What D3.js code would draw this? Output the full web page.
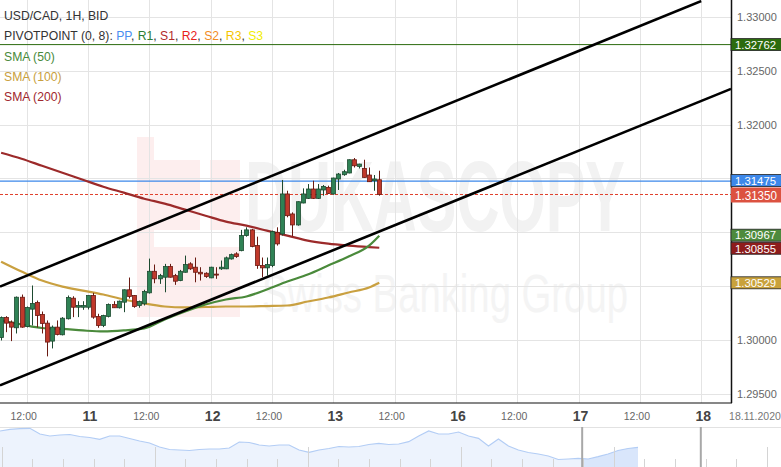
<!DOCTYPE html>
<html><head><meta charset="utf-8">
<script src="https://cdn.jsdelivr.net/npm/d3@7"></script>
<style>
html,body{margin:0;padding:0;background:#fff;overflow:hidden}
svg{display:block;font-family:"Liberation Sans",Arial,sans-serif}
</style></head><body>
<svg id="c" width="781" height="467"></svg>
<script>
// ---------- DATA ----------
const candleStartHour = -17; // hours relative to 11 Nov 00:00 (trading time, weekend removed)
const opens = [1.30021,1.30207,1.30163,1.30111,1.30395,1.30123,1.30284,1.30346,1.30235,1.30154,
1.29987,1.30117,1.30046,1.30195,1.30386,1.30302,1.30302,1.30302,1.30411,1.30216,
1.30132,1.30216,1.30327,1.30297,1.30349,1.30464,1.30411,1.30318,1.30334,1.30436,
1.30636,1.30566,1.30581,1.30680,1.30596,1.30550,1.30627,1.30705,1.30674,1.30627,
1.30618,1.30575,1.30610,1.30659,1.30659,1.30751,1.30798,1.30828,1.30968,1.31021,
1.30875,1.30689,1.30668,1.30689,1.30998,1.30983,1.31355,1.31169,1.31067,1.31271,
1.31314,1.31401,1.31314,1.31392,1.31416,1.31355,1.31494,1.31534,1.31550,1.31673,
1.31611,1.31592,1.31531,1.31478,1.31487];
const highs = [1.30216,1.30219,1.30179,1.30402,1.30420,1.30309,1.30504,1.30364,1.30262,1.30179,
1.30132,1.30179,1.30210,1.30411,1.30404,1.30358,1.30358,1.30411,1.30436,1.30241,
1.30232,1.30337,1.30358,1.30364,1.30467,1.30578,1.30415,1.30364,1.30464,1.30754,
1.30699,1.30612,1.30705,1.30705,1.30612,1.30649,1.30782,1.30720,1.30764,1.30674,
1.30627,1.30678,1.30674,1.30736,1.30773,1.30801,1.30813,1.31021,1.31045,1.31030,
1.30958,1.30764,1.30764,1.31014,1.31045,1.31485,1.31385,1.31184,1.31286,1.31407,
1.31447,1.31478,1.31447,1.31438,1.31432,1.31506,1.31550,1.31580,1.31676,1.31689,
1.31636,1.31673,1.31601,1.31531,1.31571];
const lows = [1.29993,1.30070,1.29987,1.30058,1.30111,1.30114,1.30132,1.30114,1.30058,1.29845,
1.29919,1.30040,1.30040,1.30188,1.30210,1.30210,1.30278,1.30281,1.30195,1.30111,
1.30117,1.30207,1.30297,1.30290,1.30256,1.30383,1.30297,1.30297,1.30318,1.30429,
1.30525,1.30519,1.30441,1.30578,1.30510,1.30544,1.30624,1.30649,1.30534,1.30550,
1.30575,1.30572,1.30566,1.30649,1.30656,1.30745,1.30761,1.30822,1.30958,1.30859,
1.30659,1.30581,1.30596,1.30674,1.30875,1.30968,1.31138,1.30961,1.31060,1.31268,
1.31308,1.31308,1.31308,1.31339,1.31357,1.31348,1.31392,1.31524,1.31547,1.31601,
1.31592,1.31506,1.31466,1.31385,1.31339];
const closes = [1.30207,1.30154,1.30117,1.30395,1.30117,1.30300,1.30337,1.30225,1.30151,1.29978,
1.30117,1.30049,1.30200,1.30392,1.30302,1.30318,1.30318,1.30411,1.30210,1.30132,
1.30225,1.30327,1.30297,1.30358,1.30464,1.30402,1.30309,1.30355,1.30448,1.30636,
1.30566,1.30596,1.30680,1.30581,1.30544,1.30636,1.30699,1.30659,1.30627,1.30612,
1.30587,1.30674,1.30603,1.30674,1.30761,1.30791,1.30773,1.30968,1.31021,1.30866,
1.30689,1.30668,1.30699,1.31005,1.30891,1.31355,1.31153,1.31067,1.31283,1.31355,
1.31401,1.31314,1.31401,1.31425,1.31360,1.31503,1.31540,1.31562,1.31673,1.31617,
1.31633,1.31509,1.31469,1.31494,1.31350];

const smaHours = [-17,-13,-9,-5,-1,3,7,11,15,19,23,27,31,35,39,43,47,51,55,57];
const sma50  = [1.30179,1.30142,1.30109,1.30100,1.30086,1.30077,1.30086,1.30105,1.30188,1.30262,1.30327,1.30374,1.30402,1.30467,1.30541,1.30606,1.30689,1.30773,1.30875,1.30967];
const sma100 = [1.30726,1.30634,1.30550,1.30494,1.30457,1.30420,1.30374,1.30337,1.30309,1.30300,1.30304,1.30309,1.30309,1.30313,1.30318,1.30355,1.30392,1.30439,1.30485,1.30529];
const sma200 = [1.31738,1.31682,1.31617,1.31552,1.31487,1.31422,1.31367,1.31311,1.31265,1.31209,1.31153,1.31098,1.31060,1.31014,1.30968,1.30921,1.30893,1.30875,1.30861,1.30855];

const pivotPP = 1.31475, pivotR1 = 1.32762, lastPrice = 1.31350;
const channelUpperHours = [-17.22, 120.0], channelUpperPrices = [1.30494, 1.33148];
const channelLowerHours = [-17.22, 125.83], channelLowerPrices = [1.29576, 1.32332];

const priceTicks = [1.295,1.300,1.305,1.310,1.315,1.320,1.325,1.330];
const timeTickHours  = [-12,0,12,24,36,48,60,72,84,96,108,120];
const timeTickLabels = ["12:00","11","12:00","12","12:00","13","12:00","16","12:00","17","12:00","18"];
const lastDateLabel = "18.11.2020";

const navValues = [1.3620,1.3654,1.3666,1.3674,1.3560,1.3520,1.3540,1.3550,1.3510,1.3490,
1.3454,1.3520,1.3520,1.3470,1.3420,1.3380,1.3300,1.3250,1.3240,1.3230,
1.3250,1.3260,1.3260,1.3280,1.3400,1.3390,1.3340,1.3320,1.3340,1.3340,
1.3240,1.3194,1.3240,1.3270,1.3310,1.3300,1.3310,1.3350,1.3374,1.3350,
1.3360,1.3406,1.3520,1.3620,1.3560,1.3560,1.3600,1.3520,1.3474,1.3320,
1.3460,1.3320,1.3240,1.3190,1.3160,1.3120,1.3050,1.3060,1.3074,1.3060,
1.3106,1.3160,1.3230,1.3270,1.3294];
const navWindow = [58.4, 70.3];

const legendTitle = "USD/CAD, 1H, BID";
const pivotParts = [["PIVOTPOINT (0, 8): ","#333"],["PP","#4a8ef0"],[", ","#333"],["R1","#2e7d32"],[", ","#333"],["S1","#b22a2a"],[", ","#333"],["R2","#e8201a"],[", ","#333"],["S2","#f28c1e"],[", ","#333"],["R3","#f5c400"],[", ","#333"],["S3","#f2ee00"]];
const smaLegend = [["SMA (50)","#4a8a3b"],["SMA (100)","#c9a040"],["SMA (200)","#a0282e"]];

// ---------- CHART ----------
const W = 781, H = 467, plotR = 731, plotB = 403;
const svg = d3.select("#c");
const x = d3.scaleLinear().domain([-17.22, 125.83]).range([0, plotR]);
const y = d3.scaleLinear().domain([1.295, 1.330]).range([393.5, 17]);

// watermark
const wm = svg.append("g");
wm.append("rect").attr("x",137).attr("y",137).attr("width",103).attr("height",180).attr("fill","#fdeeee");
wm.append("rect").attr("x",154).attr("y",137).attr("width",86).attr("height",110).attr("fill","#ffffff");
wm.append("rect").attr("x",154).attr("y",160).attr("width",46).attr("height",70).attr("fill","#fdeeee");
wm.append("rect").attr("x",210).attr("y",160).attr("width",30).attr("height",70).attr("fill","#fdeeee");
wm.append("text").attr("x",245).attr("y",231).attr("font-size",100).attr("font-weight","bold")
  .attr("font-family","'Liberation Sans Narrow','Liberation Sans',sans-serif")
  .attr("textLength",380).attr("lengthAdjust","spacingAndGlyphs").attr("fill","#f2f2f2").text("DUKASCOPY");
wm.append("text").attr("x",262).attr("y",312).attr("font-size",54)
  .attr("textLength",366).attr("lengthAdjust","spacingAndGlyphs").attr("fill","#f4f4f4").text("Swiss Banking Group");

// grid
const grid = svg.append("g").attr("stroke","#e4e4e4").attr("stroke-width",1);
priceTicks.forEach(p => grid.append("line").attr("x1",0).attr("x2",plotR)
  .attr("y1",Math.round(y(p))+0.5).attr("y2",Math.round(y(p))+0.5));
timeTickHours.forEach(h => grid.append("line").attr("y1",0).attr("y2",plotB)
  .attr("x1",Math.round(x(h))+0.5).attr("x2",Math.round(x(h))+0.5));

// pivot lines
svg.append("line").attr("x1",0).attr("x2",plotR).attr("y1",y(pivotR1)+2).attr("y2",y(pivotR1)+2)
  .attr("stroke","#2c6b0e").attr("stroke-width",1);
svg.append("line").attr("x1",0).attr("x2",plotR).attr("y1",y(pivotPP)).attr("y2",y(pivotPP))
  .attr("stroke","#3d88ea").attr("stroke-width",1.2);
svg.append("line").attr("x1",0).attr("x2",plotR).attr("y1",y(lastPrice)).attr("y2",y(lastPrice))
  .attr("stroke","#e0402c").attr("stroke-width",1).attr("stroke-dasharray","3,2");

// SMA lines
const smaLine = vals => d3.line().curve(d3.curveMonotoneX)
  .x((d,i)=>x(smaHours[i])).y(d=>y(d))(vals);
[[sma200,"#9c2a2a"],[sma100,"#c9a040"],[sma50,"#4a8a3b"]].forEach(([v,c]) =>
  svg.append("path").attr("d",smaLine(v)).attr("fill","none").attr("stroke",c).attr("stroke-width",2.2));

// candles
const cg = svg.append("g");
opens.forEach((o,i) => {
  const h = candleStartHour + i, cx = Math.round(x(h)) + 0.5;
  const up = closes[i] >= o;
  const fill = up ? "#2f8255" : "#c0392b", dark = up ? "#1d4a30" : "#6a1a12";
  cg.append("line").attr("x1",cx).attr("x2",cx).attr("y1",y(highs[i])).attr("y2",y(lows[i]))
    .attr("stroke",dark).attr("stroke-width",1);
  const top = y(Math.max(o,closes[i])), bot = y(Math.min(o,closes[i]));
  cg.append("rect").attr("x",cx-2).attr("y",top).attr("width",4).attr("height",Math.max(1,bot-top))
    .attr("fill",fill).attr("stroke",dark).attr("stroke-width",0.8);
});

// channel lines
[[channelUpperHours,channelUpperPrices],[channelLowerHours,channelLowerPrices]].forEach(([hs,ps]) =>
  svg.append("line").attr("x1",x(hs[0])).attr("y1",y(ps[0])).attr("x2",x(hs[1])).attr("y2",y(ps[1]))
    .attr("stroke","#000").attr("stroke-width",2.6));

// cover right axis area
svg.append("rect").attr("x",plotR).attr("y",0).attr("width",W-plotR).attr("height",plotB+1).attr("fill","#fff");
svg.append("rect").attr("x",0).attr("y",plotB).attr("width",W).attr("height",H-plotB).attr("fill","#fff");

// axes lines
svg.append("line").attr("x1",plotR+0.5).attr("x2",plotR+0.5).attr("y1",0).attr("y2",plotB).attr("stroke","#111").attr("stroke-width",1.5);
svg.append("line").attr("x1",0).attr("x2",plotR+1).attr("y1",plotB).attr("y2",plotB).attr("stroke","#111").attr("stroke-width",1.2);

// value boxes
const boxes = [[pivotR1,"#2c6b0e",false,2],[pivotPP,"#3d88ea",false,-0.5],[sma50[sma50.length-1],"#4d8a3d",false,-0.5],
  [sma200[sma200.length-1],"#8e1c1c",false,0.5],[sma100[sma100.length-1],"#c9a23c",false,0],[lastPrice,"#dc5240",true,0.5]];

// y tick labels (skip those hidden behind value boxes)
priceTicks.forEach(p => {
  const yy = y(p);
  if (boxes.some(b => Math.abs(y(b[0]) + b[3] - yy) < 11)) return;
  svg.append("text").attr("x",737).attr("y",yy+4).attr("font-size",11).attr("fill","#666").text(p.toFixed(5));
});

boxes.forEach(([v,c,big,off]) => {
  const hgt = big ? 15 : 12, yy = y(v) + off;
  svg.append("rect").attr("x",plotR).attr("y",yy-hgt/2).attr("width",W-plotR+2).attr("height",hgt)
    .attr("fill",c).attr("stroke",big?"none":"#222").attr("stroke-width",0.8);
  svg.append("text").attr("x",735).attr("y",yy+(big?5:4.3)).attr("font-size",big?13.5:11.5)
    .attr("textLength",big?42:41).attr("lengthAdjust","spacingAndGlyphs")
    .attr("fill","#fff").text(v.toFixed(5));
});

// x axis labels
timeTickHours.forEach((h,i) => {
  const lab = timeTickLabels[i], isDay = lab.indexOf(":") < 0;
  svg.append("text").attr("x",x(h)+(isDay?2:-3)).attr("y",isDay?421:420).attr("text-anchor","middle")
    .attr("font-size",isDay?14:10.5).attr("font-weight",isDay?"bold":"normal")
    .attr("fill",isDay?"#444":"#666").text(lab);
});
svg.append("text").attr("x",755).attr("y",420).attr("text-anchor","middle").attr("font-size",10.5)
  .attr("fill","#777").text(lastDateLabel);

// legend
svg.append("text").attr("x",4).attr("y",20).attr("font-size",12.2).attr("fill","#333").text(legendTitle);
const pt = svg.append("text").attr("x",4).attr("y",40).attr("font-size",12.2);
pivotParts.forEach(([t,c]) => pt.append("tspan").attr("fill",c).text(t));
smaLegend.forEach(([t,c],i) => svg.append("text").attr("x",4).attr("y",61+i*20).attr("font-size",12.2)
  .attr("fill",c).text(t));

// navigator
const nTop = 427;
const xN = d3.scaleLinear().domain([0, navValues.length-1]).range([0, 638]);
const yN = d3.scaleLinear().domain([1.29, 1.37]).range([H, nTop]);
svg.append("line").attr("x1",0).attr("x2",W).attr("y1",nTop+0.5).attr("y2",nTop+0.5).attr("stroke","#e2e2e2");
const area = d3.area().x((d,i)=>xN(i)).y0(H).y1(d=>yN(d));
svg.append("path").attr("d",area(navValues)).attr("fill","#edf3fd");
svg.append("clipPath").attr("id","win").append("rect").attr("x",xN(navWindow[0])).attr("y",nTop)
  .attr("width",xN(navWindow[1])-xN(navWindow[0])).attr("height",H-nTop);
svg.append("path").attr("d",area(navValues)).attr("fill","#d9e6fb").attr("clip-path","url(#win)");
svg.append("path").attr("d",d3.line().x((d,i)=>xN(i)).y(d=>yN(d))(navValues)).attr("fill","none")
  .attr("stroke","#b3cdf5").attr("stroke-width",1.2);
const navTicks = d3.range(0, 26);
navTicks.forEach(k => {
  const tx = Math.round(1.7 + k*30.6) + 0.5;
  svg.append("line").attr("x1",tx).attr("x2",tx).attr("y1",k%5===0?447:459).attr("y2",H)
    .attr("stroke","#d4d4d4").attr("stroke-width",1);
});
navWindow.forEach(v => svg.append("line").attr("x1",xN(v)).attr("x2",xN(v)).attr("y1",nTop).attr("y2",H)
  .attr("stroke","#a8a8a8").attr("stroke-width",2));
</script>
</body></html>
